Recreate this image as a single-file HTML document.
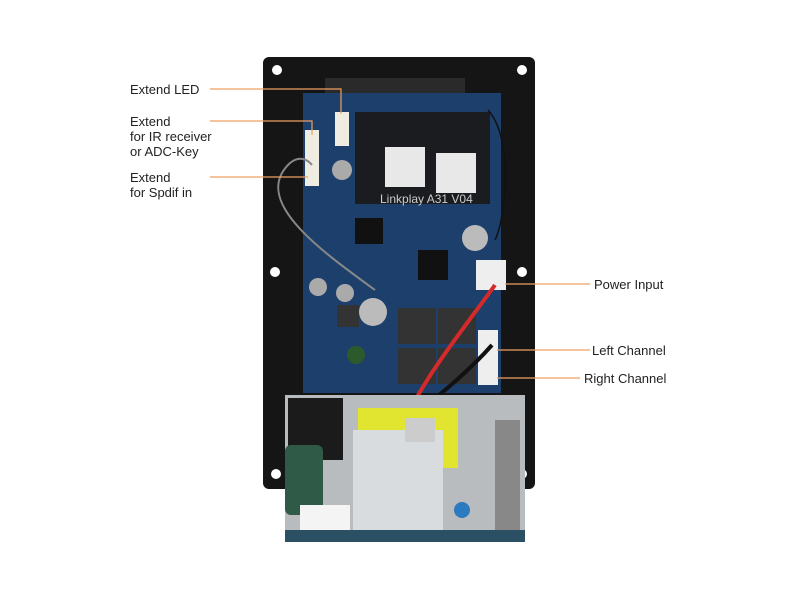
<!DOCTYPE html>
<html><head><style>
body{margin:0;background:#fff;width:800px;height:600px;overflow:hidden;font-family:"Liberation Sans",sans-serif}
</style></head><body>
<svg width="800" height="600" viewBox="0 0 800 600" xmlns="http://www.w3.org/2000/svg">
<rect x="263" y="57" width="272" height="432" rx="6" fill="#151515"/>
<g fill="#fff"><circle cx="277" cy="70" r="5"/><circle cx="522" cy="70" r="5"/><circle cx="275" cy="272" r="5"/><circle cx="522" cy="272" r="5"/><circle cx="276" cy="474" r="5"/><circle cx="522" cy="474" r="5"/></g>
<rect x="325" y="78" width="140" height="20" fill="#2a2a2a"/>
<rect x="303" y="93" width="198" height="300" fill="#1c3f6c"/>
<rect x="355" y="112" width="135" height="92" fill="#1a1c20"/>
<rect x="385" y="147" width="40" height="40" fill="#e8e8e8"/>
<rect x="436" y="153" width="40" height="40" fill="#e8e8e8"/>
<text x="380" y="203" font-size="12" fill="#ccc">Linkplay A31 V04</text>
<rect x="335" y="112" width="14" height="34" fill="#efece2"/>
<rect x="305" y="130" width="14" height="56" fill="#efece2"/>
<rect x="476" y="260" width="30" height="30" fill="#eeeeee"/>
<rect x="478" y="330" width="20" height="55" fill="#eeeeee"/>
<rect x="355" y="218" width="28" height="26" fill="#111"/>
<rect x="418" y="250" width="30" height="30" fill="#111"/>
<circle cx="475" cy="238" r="13" fill="#bbb"/>
<circle cx="373" cy="312" r="14" fill="#bbb"/>
<circle cx="342" cy="170" r="10" fill="#aaa"/>
<circle cx="318" cy="287" r="9" fill="#aaa"/>
<circle cx="345" cy="293" r="9" fill="#aaa"/>
<circle cx="356" cy="355" r="9" fill="#2d5a2d"/>
<rect x="398" y="308" width="38" height="36" fill="#333"/>
<rect x="438" y="308" width="38" height="36" fill="#333"/>
<rect x="398" y="348" width="38" height="36" fill="#333"/>
<rect x="438" y="348" width="38" height="36" fill="#333"/>
<rect x="337" y="305" width="22" height="22" fill="#333"/>
<path d="M495 285 C470 320 430 370 410 410" stroke="#d42a2a" stroke-width="4" fill="none"/>
<path d="M492 345 C470 370 440 395 420 410" stroke="#111" stroke-width="4" fill="none"/>
<path d="M488 110 C515 140 505 220 495 240" stroke="#111" stroke-width="1.5" fill="none"/>
<path d="M375 290 C320 250 250 200 290 163 C300 155 308 160 312 165" stroke="#888" stroke-width="2" fill="none"/>
<rect x="285" y="395" width="240" height="145" fill="#b9bcbf"/>
<rect x="285" y="530" width="240" height="12" fill="#2b4f63"/>
<rect x="288" y="398" width="55" height="62" fill="#1b1b1b"/>
<rect x="285" y="445" width="38" height="70" rx="6" fill="#2f5a48"/>
<rect x="358" y="408" width="100" height="60" fill="#e2e530"/>
<rect x="353" y="430" width="90" height="100" fill="#d9dcdf"/>
<rect x="405" y="418" width="30" height="24" fill="#ccc"/>
<rect x="495" y="420" width="25" height="110" fill="#888"/>
<rect x="300" y="505" width="50" height="25" fill="#f4f4f4"/>
<circle cx="462" cy="510" r="8" fill="#2c7ac0"/>
<g stroke="#f0a060" stroke-width="1.2" fill="none">
<path d="M210 89 H341 V114"/>
<path d="M210 121 H312 V135"/>
<path d="M210 177 H308"/>
<path d="M505 284 H590"/>
<path d="M497 350 H590"/>
<path d="M497 378 H580"/>
</g>
<g font-size="13" fill="#222">
<text x="130" y="94">Extend LED</text>
<text x="130" y="126">Extend</text>
<text x="130" y="141">for IR receiver</text>
<text x="130" y="156">or ADC-Key</text>
<text x="130" y="182">Extend</text>
<text x="130" y="197">for Spdif in</text>
<text x="594" y="289">Power Input</text>
<text x="592" y="355">Left Channel</text>
<text x="584" y="383">Right Channel</text>
</g>
</svg>
</body></html>
